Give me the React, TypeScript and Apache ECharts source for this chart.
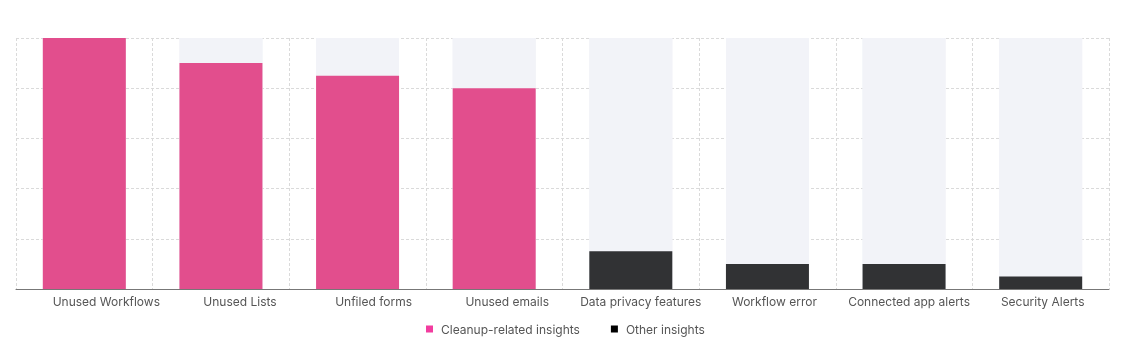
import React, { useEffect, useRef } from "react";
import * as echarts from "echarts";

const categories = [
  "Unused Workflows",
  "Unused Lists",
  "Unfiled forms",
  "Unused emails",
  "Data privacy features",
  "Workflow error",
  "Connected app alerts",
  "Security Alerts",
];
const cleanupValues = [100, 90, 85, 80, null, null, null, null];
const otherValues = [null, null, null, null, 15, 10, 10, 5];
const seriesNames = ["Cleanup-related insights", "Other insights"];

// horizontal nudges of the tick labels (px), as seen in the reference
const labelShift = [22, 19, 16, 13, 10, 7, 5, 2];

export default function App() {
  const ref = useRef<HTMLDivElement>(null);
  useEffect(() => {
    if (!ref.current) return;
    const chart = echarts.init(ref.current, undefined, { renderer: "svg" });
    const splitStyle = { color: "#dadada", type: [3, 2] as any, width: 1 };
    const axisData = categories.map((c, i) => {
      const d = labelShift[i];
      return {
        value: c,
        textStyle: {
          padding: d >= 0 ? [0, 0, 0, 2 * d] : [0, -2 * d, 0, 0],
        },
      };
    });
    chart.setOption({
      animation: false,
      textStyle: { fontFamily: "Inter" },
      grid: { left: 16, right: 17, top: 38, bottom: 68, containLabel: false },
      legend: {
        bottom: 17,
        left: 421,
        padding: 5,
        icon: "rect",
        itemWidth: 7,
        itemHeight: 7,
        itemGap: 31,
        textStyle: {
          color: "#555",
          fontSize: 12,
          fontFamily: "Inter",
          padding: [0, 0, 0, 3],
        },
        data: [
          { name: seriesNames[0], itemStyle: { color: "#f23c9f" } },
          { name: seriesNames[1], itemStyle: { color: "#000000" } },
        ],
      },
      xAxis: {
        type: "category",
        data: axisData,
        axisLine: { lineStyle: { color: "#777", width: 1 } },
        axisTick: { show: false },
        axisLabel: {
          color: "#555",
          fontSize: 12,
          fontFamily: "Inter",
          margin: 6,
          interval: 0,
        },
        splitLine: { show: true, lineStyle: splitStyle },
      },
      yAxis: {
        type: "value",
        min: 0,
        max: 100,
        interval: 20,
        axisLabel: { show: false },
        axisLine: { show: false },
        axisTick: { show: false },
        splitLine: { show: true, lineStyle: splitStyle },
      },
      series: [
        {
          name: seriesNames[0],
          type: "bar",
          stack: "total",
          barWidth: 83,
          data: cleanupValues,
          itemStyle: { color: "#e24e8d" },
          showBackground: true,
          backgroundStyle: { color: "#f2f3f8" },
        },
        {
          name: seriesNames[1],
          type: "bar",
          stack: "total",
          barWidth: 83,
          data: otherValues,
          itemStyle: { color: "#313234" },
          showBackground: true,
          backgroundStyle: { color: "#f2f3f8" },
        },
      ],
    });
    return () => chart.dispose();
  }, []);
  return (
    <div
      ref={ref}
      style={{ position: "fixed", left: 0, top: 0, width: 1126, height: 357 }}
    />
  );
}
